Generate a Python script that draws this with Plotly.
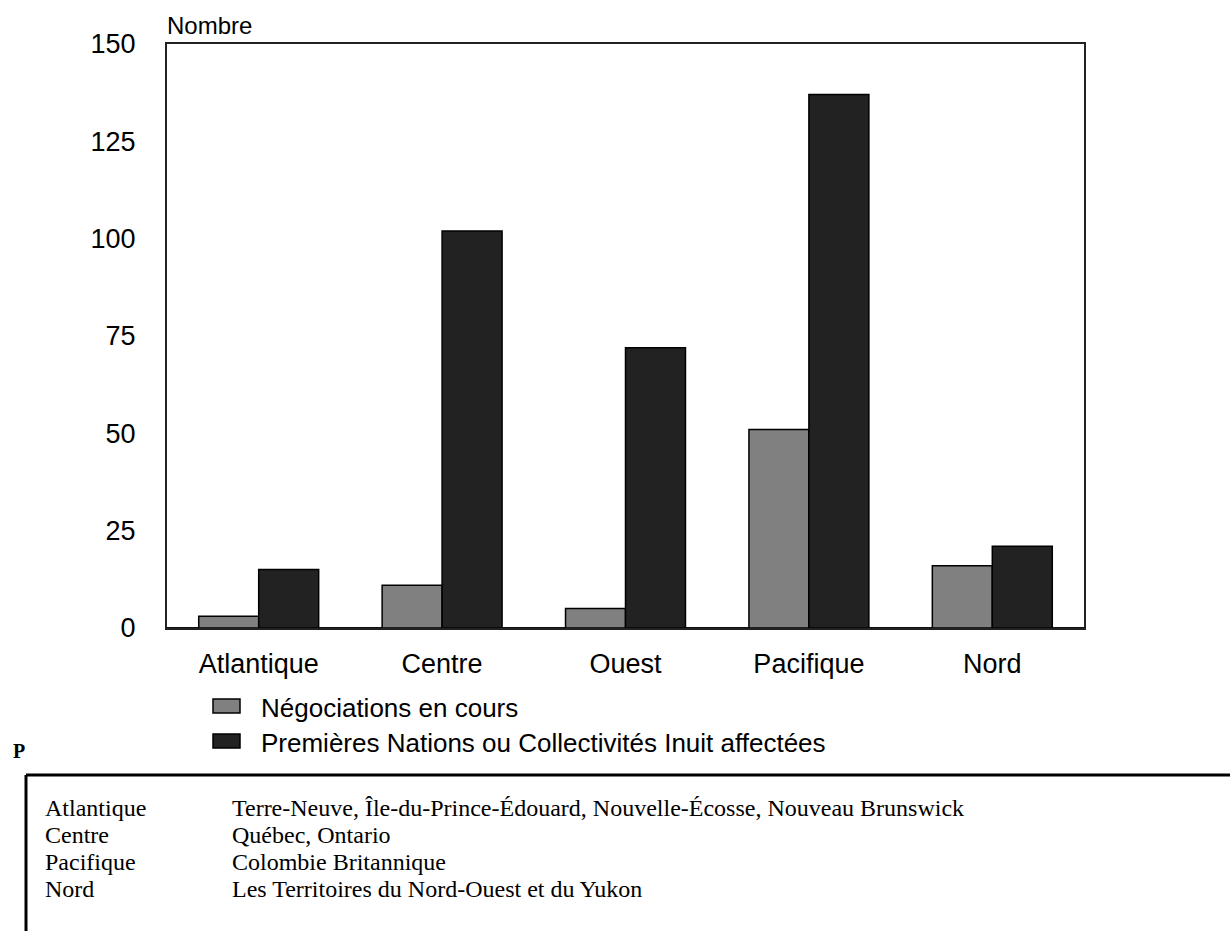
import plotly.graph_objects as go

# Regions and counts
regions = ["Atlantique", "Centre", "Ouest", "Pacifique", "Nord"]
negociations = [3, 11, 5, 51, 16]
collectivites = [15, 102, 72, 137, 21]

series_names = ["Négociations en cours",
                "Premières Nations ou Collectivités Inuit affectées"]
series_colors = ["#808080", "#222222"]

y_ticks = [0, 25, 50, 75, 100, 125, 150]
y_title = "Nombre"

# Regional composition notes
note_regions = ["Atlantique", "Centre", "Pacifique", "Nord"]
note_provinces = [
    "Terre-Neuve, Île-du-Prince-Édouard, Nouvelle-Écosse, Nouveau Brunswick",
    "Québec, Ontario",
    "Colombie Britannique",
    "Les Territoires du Nord-Ouest et du Yukon",
]

W, H = 1230, 931
L, R, T, B = 167, 1084, 44, 628


def px(x):
    return (x - L) / (R - L)


def py(y):
    return (B - y) / (B - T)


SANS = "Liberation Sans, Arial, sans-serif"
SERIF = "Liberation Serif, Times New Roman, serif"

fig = go.Figure()
for name, vals, col in zip(series_names, [negociations, collectivites], series_colors):
    fig.add_trace(go.Bar(
        x=regions, y=vals, name=name,
        marker=dict(color=col, line=dict(color="#000000", width=1.5)),
        showlegend=False,
    ))

fig.update_layout(
    width=W, height=H,
    margin=dict(l=L, r=W - R, t=T, b=H - B, pad=0),
    paper_bgcolor="white", plot_bgcolor="white",
    barmode="group", bargap=0.346, bargroupgap=0,
    font=dict(family=SANS, color="#000000"),
)

fig.update_xaxes(
    showline=True, linecolor="#222222", linewidth=2, mirror=True,
    showgrid=False, ticks="", tickfont=dict(size=27, family=SANS),
    ticklabelstandoff=11,
)
fig.update_yaxes(
    range=[0, 150], tickvals=y_ticks,
    showline=True, linecolor="#222222", linewidth=2, mirror=True,
    showgrid=False, zeroline=True, zerolinecolor="#111111", zerolinewidth=3,
    ticks="", tickfont=dict(size=27, family=SANS),
    ticklabelstandoff=24,
)

annotations = [
    dict(text=y_title, xref="paper", yref="paper", x=px(165), y=py(26),
         xanchor="left", yanchor="middle", showarrow=False,
         font=dict(size=24, family=SANS)),
    dict(text="<b>P</b>", xref="paper", yref="paper", x=px(11), y=py(751),
         xanchor="left", yanchor="middle", showarrow=False,
         font=dict(size=20, family=SERIF)),
]

shapes = []
# Manual legend swatches and labels
legend_rows = [706, 741]
for name, col, yc in zip(series_names, series_colors, legend_rows):
    shapes.append(dict(type="rect", xref="paper", yref="paper",
                       x0=px(213), x1=px(240), y0=py(yc - 7), y1=py(yc + 7),
                       fillcolor=col, line=dict(color="#000000", width=1.5)))
    annotations.append(dict(text=name, xref="paper", yref="paper",
                            x=px(259), y=py(yc + 2), xanchor="left", yanchor="middle",
                            showarrow=False, font=dict(size=26, family=SANS)))

# Note box outline (top and left edges)
shapes.append(dict(type="line", xref="paper", yref="paper",
                   x0=px(26), x1=px(1240), y0=py(775), y1=py(775),
                   line=dict(color="#000000", width=3)))
shapes.append(dict(type="line", xref="paper", yref="paper",
                   x0=px(26), x1=px(26), y0=py(775), y1=py(940),
                   line=dict(color="#000000", width=3)))

row_y = [808, 835, 862, 889]
for reg, prov, yc in zip(note_regions, note_provinces, row_y):
    annotations.append(dict(text=reg, xref="paper", yref="paper",
                            x=px(43), y=py(yc), xanchor="left", yanchor="middle",
                            showarrow=False, font=dict(size=24, family=SERIF)))
    annotations.append(dict(text=prov, xref="paper", yref="paper",
                            x=px(230), y=py(yc), xanchor="left", yanchor="middle",
                            showarrow=False, font=dict(size=24, family=SERIF)))

fig.update_layout(annotations=annotations, shapes=shapes)

fig.write_html("out.html")
